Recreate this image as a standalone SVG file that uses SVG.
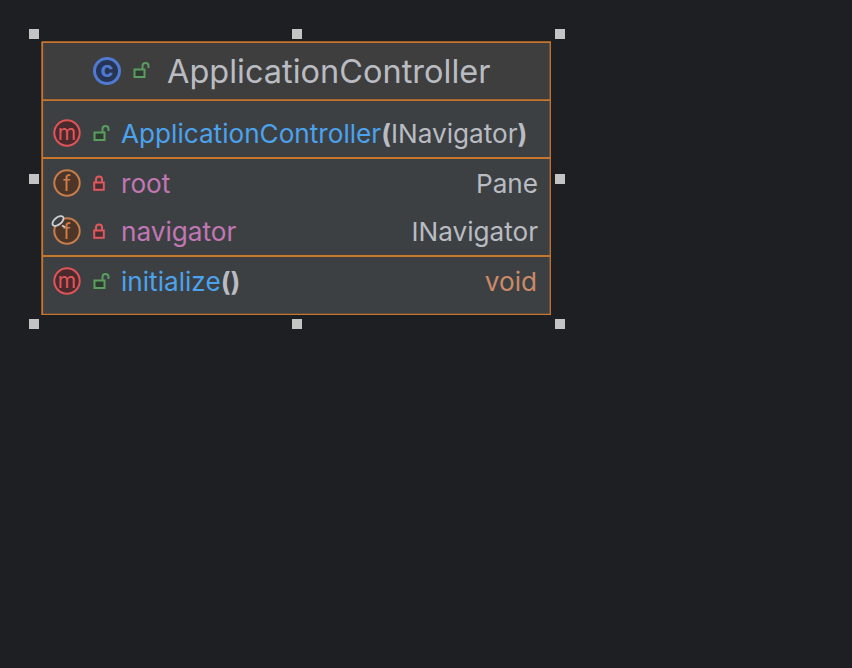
<svg xmlns="http://www.w3.org/2000/svg" width="852" height="668" viewBox="0 0 852 668">
<style>
text{font-family:Inter,"Noto Sans",sans-serif;font-size:26.15px}
.g{fill:#b9bcc2}.b{fill:#4ba3ee}.p{fill:#c277b5}.o{fill:#cb8a68}
.h{fill:#c4c4c4}
.sep{stroke:#c8752d;stroke-width:1.8;fill:none}
.thin{stroke:#c8752d;stroke-width:1.3;fill:none}
.ic{font-size:21px;text-anchor:middle}
.lg{fill:#2d3a30;stroke:#5a9d5f;stroke-width:2}
.lr{fill:#4a2f32;stroke:#e0575c;stroke-width:2}
.m{fill:#4a2a2c;stroke:#df5458;stroke-width:2}
.f{fill:#4d3527;stroke:#c77d4c;stroke-width:2}
</style>
<defs>
<g id="open"><path d="M1.500 -2V-5a3 3 0 0 1 6 0V-3" fill="none" stroke="#5a9d5f" stroke-width="2"/><rect class="lg" x="-6.500" y="-1.500" width="10" height="7.500"/></g>
<g id="closed"><path d="M-3 -1V-3.500a3 3 0 0 1 6 0V-1" fill="none" stroke="#e0575c" stroke-width="2"/><rect class="lr" x="-4.800" y="-0.500" width="9.600" height="7.300"/></g>
</defs>
<rect width="852" height="668" fill="#1e1f22"/>
<g id="node-ApplicationController">
<rect x="42" y="42" width="508" height="58" fill="#3e3e3e"/>
<rect x="42" y="100" width="508" height="214" fill="#3d4043"/>
<path class="sep" d="M41.500 42.200H551M42.200 42V315M42 100.200H550M42 158H550M42 256H550"/>
<path class="thin" d="M550.300 42V315M41.500 314.400H551"/>
<circle cx="107" cy="71" r="12.500" fill="#253553" stroke="#4f7ad0" stroke-width="3"/>
<text class="ic" x="107" y="77" fill="#4f7ad0" font-weight="700" style="font-size:22px">c</text>
<use href="#open" x="141" y="71"/>
<text class="g" x="167" y="83" style="font-size:32.500px">ApplicationController</text>
<circle class="m" cx="67" cy="133" r="12.700"/>
<text class="ic" x="67" y="140" fill="#e0575c">m</text>
<use href="#open" x="101" y="134"/>
<text class="b" x="121" y="143">ApplicationController<tspan class="g" font-weight="700">(</tspan><tspan class="g">INavigator</tspan><tspan class="g" font-weight="700">)</tspan></text>
<circle class="f" cx="67" cy="183" r="12.700"/>
<text class="ic" x="67" y="190.500" fill="#cb7e4d">f</text>
<use href="#closed" x="99" y="183"/>
<text class="p" x="121" y="193">root</text>
<text class="g" x="538" y="193" text-anchor="end">Pane</text>
<circle class="f" cx="67" cy="231" r="12.700"/>
<text class="ic" x="67" y="238.500" fill="#cb7e4d">f</text>
<ellipse cx="58" cy="221" rx="6.500" ry="3.500" transform="rotate(-38 58 221)" fill="#3d4043" stroke="#cdd0d4" stroke-width="1.800"/>
<path d="M62 225.500L65 227" stroke="#cdd0d4" stroke-width="1.800" fill="none"/>
<use href="#closed" x="99" y="231"/>
<text class="p" x="121" y="241">navigator</text>
<text class="g" x="538" y="241" text-anchor="end">INavigator</text>
<circle class="m" cx="67" cy="281" r="12.700"/>
<text class="ic" x="67" y="288" fill="#e0575c">m</text>
<use href="#open" x="101" y="282"/>
<text class="b" x="121" y="291">initialize<tspan class="g" font-weight="700">()</tspan></text>
<text class="o" x="537" y="291" text-anchor="end">void</text>
</g>
<g id="handles">
<rect class="h" x="29" y="29" width="10" height="10"/>
<rect class="h" x="292" y="29" width="10" height="10"/>
<rect class="h" x="555" y="29" width="10" height="10"/>
<rect class="h" x="29" y="174" width="10" height="10"/>
<rect class="h" x="555" y="174" width="10" height="10"/>
<rect class="h" x="29" y="319" width="10" height="10"/>
<rect class="h" x="292" y="319" width="10" height="10"/>
<rect class="h" x="555" y="319" width="10" height="10"/>
</g>
<g id="connectors"/>
</svg>
